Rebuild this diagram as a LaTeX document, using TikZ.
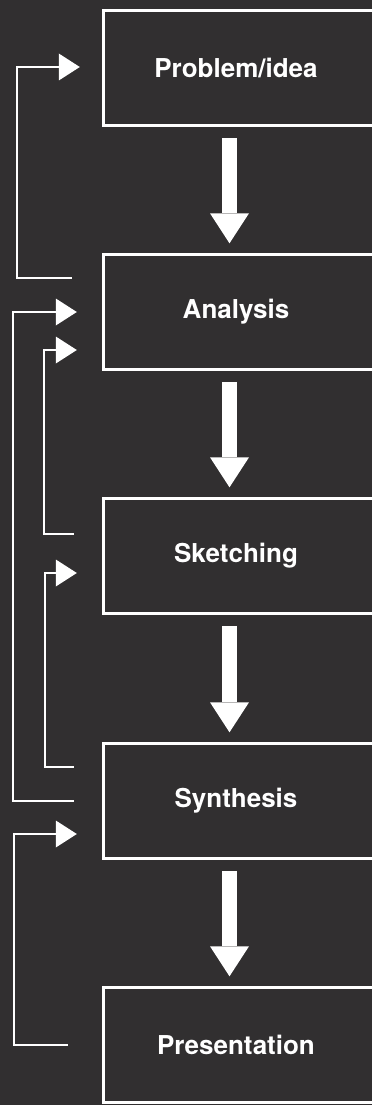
\documentclass[tikz,border=0pt]{standalone}
\usepackage{fontspec}
\setmainfont{TeX Gyre Heros}
\usetikzlibrary{arrows.meta}
\definecolor{bgdark}{HTML}{312F30}

\begin{document}
\begin{tikzpicture}[x=1pt,y=-1pt,
  stage/.style={minimum width=264pt,minimum height=115pt,inner sep=0pt,
    text=white,font=\fontsize{26}{30}\selectfont\bfseries},
  frame/.style={draw=white,line width=3pt},
  flow/.style={white,line width=15pt,-{Triangle[width=39pt,length=30pt,line width=0pt]}},
  feedback/.style={white,line width=2pt,-{Triangle[width=27pt,length=21pt,line width=0pt]}}]
\useasboundingbox (0,0) rectangle (372,1105);
\fill[bgdark] (0,0) rectangle (372,1105);
\clip (0,0) rectangle (372,1105);
\node[stage] (prob) at (236,68) {Problem/idea};
\node[stage] (ana) at (236,312) {Analysis};
\node[stage] (ske) at (236,556) {Sketching};
\node[stage] (syn) at (236,801) {Synthesis};
\node[stage] (pre) at (236,1045) {Presentation};
\foreach \n in {prob,ana,ske,syn,pre}
  \draw[frame] (\n.north west) rectangle ([xshift=30pt]\n.south east);
% steps down
\draw[flow] ([xshift=-6.5pt,yshift=-12.5pt]prob.south) -- ([xshift=-6.5pt,yshift=11pt]ana.north);
\draw[flow] ([xshift=-6.5pt,yshift=-12.5pt]ana.south) -- ([xshift=-6.5pt,yshift=11pt]ske.north);
\draw[flow] ([xshift=-6.5pt,yshift=-12.5pt]ske.south) -- ([xshift=-6.5pt,yshift=11pt]syn.north);
\draw[flow] ([xshift=-6.5pt,yshift=-12.5pt]syn.south) -- ([xshift=-6.5pt,yshift=11pt]pre.north);
% going back
\draw[feedback] ([xshift=-32pt,yshift=34pt]ana.west) -- ++(-55,0) |- ([xshift=-24pt,yshift=1pt]prob.west);
\draw[feedback] ([xshift=-30pt]syn.west) -- ++(-61,0) |- ([xshift=-27pt]ana.west);
\draw[feedback] ([xshift=-30pt,yshift=22pt]ske.west) -- ++(-30,0) |- ([xshift=-27pt,yshift=-38pt]ana.west);
\draw[feedback] ([xshift=-30pt,yshift=34pt]syn.west) -- ++(-29,0) |- ([xshift=-27pt,yshift=-17pt]ske.west);
\draw[feedback] ([xshift=-36pt]pre.west) -- ++(-54,0) |- ([xshift=-27pt,yshift=-33pt]syn.west);
\end{tikzpicture}
\end{document}
